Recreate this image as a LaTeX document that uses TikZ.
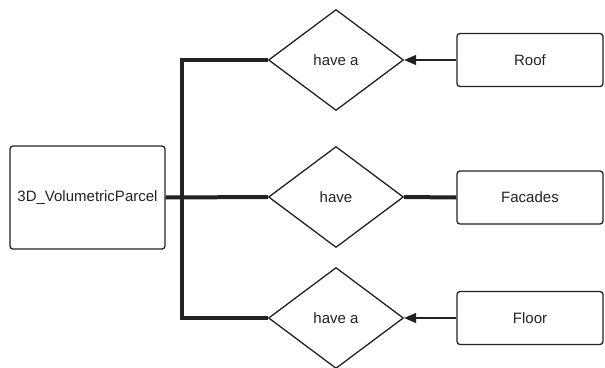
\documentclass[tikz,border=0pt]{standalone}
\usepackage{fontspec}
\setmainfont{Liberation Sans}
\usetikzlibrary{shapes.geometric,arrows.meta}
\definecolor{tinta}{HTML}{222222}
\tikzset{
  entidad/.style={draw=tinta,line width=1.3pt,rounded corners=3pt,minimum width=146pt,minimum height=53pt,text=tinta},
  relacion/.style={draw=tinta,line width=1.3pt,diamond,aspect=1.33,minimum width=135pt,minimum height=101pt,inner sep=0pt,text=tinta},
  enlace/.style={draw=tinta,line width=4pt},
  flecha/.style={draw=tinta,line width=1.5pt,-{Triangle[length=12pt,width=10pt]}}
}
\begin{document}
\begin{tikzpicture}[x=1pt,y=-1pt,font=\fontsize{15}{18}\selectfont]
                \useasboundingbox (0,0) rectangle (605,367);
                % Entidad principal
                \node[entidad,minimum width=155pt,minimum height=103pt] (parcela) at (87.5,197.5) {3D\_VolumetricParcel};
                
                % Relaciones
                \node[relacion] (rel1) at (336,60) {have a};
                \node[relacion] (rel2) at (336,197) {have};
                \node[relacion] (rel3) at (336,318) {have a};
                
                % Entidades de la derecha
                \node[entidad] (techo) at (530,60) {Roof};
                \node[entidad] (fachadas) at (530,197.5) {Facades};
                \node[entidad] (suelo) at (530,318) {Floor};
                
                % Uniones gruesas
                \coordinate (arriba) at (181.5,60);
                \coordinate (abajo) at (181.5,318);
                \draw[enlace] (rel1.west) -- (arriba) -- (abajo) -- (rel3.west);
                \draw[enlace] (parcela.east) -- (rel2.west);
                \draw[enlace] (rel2.east) -- (fachadas.west);
                
                % Flechas
                \draw[flecha] (techo.west) -- (rel1.east);
                \draw[flecha] (suelo.west) -- (rel3.east);
         
            \end{tikzpicture}
\end{document}
